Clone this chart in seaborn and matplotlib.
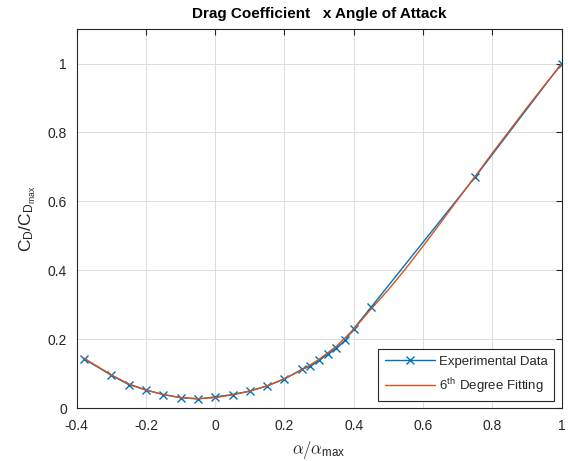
import numpy as np
import pandas as pd
import seaborn as sns
import matplotlib
matplotlib.use("Agg")
import matplotlib.pyplot as plt

exp_x = [-0.38, -0.30, -0.25, -0.20, -0.15, -0.10, -0.05, 0.00, 0.05, 0.10, 0.15,
         0.20, 0.25, 0.275, 0.30, 0.325, 0.35, 0.375, 0.40, 0.45, 0.75, 1.00]
exp_y = [0.144, 0.096, 0.069, 0.053, 0.040, 0.031, 0.027, 0.033, 0.040, 0.050, 0.065,
         0.085, 0.113, 0.122, 0.139, 0.157, 0.175, 0.197, 0.231, 0.293, 0.670, 1.000]

# 6th degree fitting curve
fit_x = [-0.38, -0.30, -0.25, -0.20, -0.15, -0.10, -0.05, 0.00, 0.05, 0.10, 0.15,
         0.20, 0.25, 0.30, 0.35, 0.40, 0.45, 0.50, 0.55, 0.60, 0.65, 0.70, 0.75,
         0.80, 0.85, 0.90, 0.95, 1.00]
fit_y = [0.146, 0.097, 0.071, 0.053, 0.040, 0.031, 0.028, 0.031, 0.039, 0.050, 0.065,
         0.086, 0.111, 0.142, 0.180, 0.229, 0.288, 0.344, 0.405, 0.470, 0.537, 0.605, 0.672,
         0.740, 0.806, 0.872, 0.936, 0.998]

x_ticks = [-0.4, -0.2, 0, 0.2, 0.4, 0.6, 0.8, 1]
x_tick_labels = ["-0.4", "-0.2", "0", "0.2", "0.4", "0.6", "0.8", "1"]
y_ticks = [0, 0.2, 0.4, 0.6, 0.8, 1]
y_tick_labels = ["0", "0.2", "0.4", "0.6", "0.8", "1"]

sns.set_style("white")
plt.rcParams["font.family"] = ["Liberation Sans", "DejaVu Sans"]
plt.rcParams["mathtext.fontset"] = "cm"

BLUE = "#0072BD"
ORANGE = "#D95319"
DARK = "#262626"

fig = plt.figure(figsize=(5.68, 4.61), dpi=100)
ax = fig.add_axes([0.135, 0.1143, 0.8536, 0.8227])

df_exp = pd.DataFrame({"x": exp_x, "y": exp_y})
df_fit = pd.DataFrame({"x": fit_x, "y": fit_y})

sns.lineplot(data=df_exp, x="x", y="y", ax=ax, color=BLUE, lw=1.0, marker="x",
             markersize=5.5, markeredgecolor=BLUE, markeredgewidth=1.0,
             label="Experimental Data", sort=False)
sns.lineplot(data=df_fit, x="x", y="y", ax=ax, color=ORANGE, lw=1.0,
             label=r"6$^{\mathregular{th}}$ Degree Fitting", sort=False)

ax.set_xlim(-0.4, 1.0)
ax.set_ylim(0, 1.1)
ax.set_xticks(x_ticks)
ax.set_xticklabels(x_tick_labels)
ax.set_yticks(y_ticks)
ax.set_yticklabels(y_tick_labels)

ax.grid(True, color="#dcdcdc", lw=0.7)
ax.set_axisbelow(True)
for s in ax.spines.values():
    s.set_visible(True)
    s.set_color(DARK)
    s.set_linewidth(0.8)
ax.tick_params(direction="in", length=4, width=0.8, colors=DARK, labelsize=10,
               top=True, right=True, labelcolor=DARK)
ax.tick_params(axis="x", pad=8)
ax.tick_params(axis="y", pad=7)

ax.set_title("Drag Coefficient   x Angle of Attack", fontsize=11, fontweight="bold",
             color="black", pad=8)
ax.set_xlabel(r"$\alpha/\alpha_{\mathregular{max}}$", fontsize=12, color=DARK, labelpad=4)
ax.set_ylabel(r"$\mathregular{C_D/C_{D_{max}}}$", fontsize=12.5, color=DARK, labelpad=7)

leg = ax.legend(loc="lower right", fontsize=9.5, frameon=True, fancybox=False,
                edgecolor=DARK, framealpha=1, borderpad=0.5, handlelength=3.8,
                handletextpad=0.3, labelspacing=0.55, borderaxespad=0.0,
                bbox_to_anchor=(0.985, 0.018))
leg.get_frame().set_linewidth(0.8)

fig.savefig("out.png", dpi=100)
